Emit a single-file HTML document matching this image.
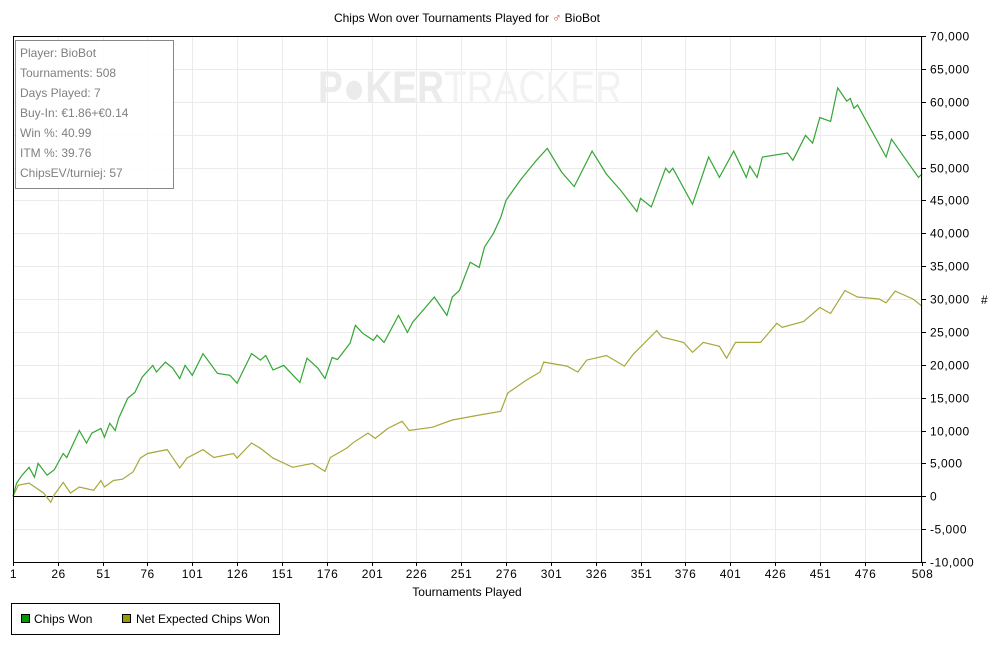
<!DOCTYPE html>
<html><head><meta charset="utf-8"><style>
body{margin:0;background:#fff;width:999px;height:641px;overflow:hidden;font-family:"Liberation Sans",sans-serif}
svg text{font-family:"Liberation Sans",sans-serif}
</style></head><body>
<svg id="chart" width="999" height="641" xmlns="http://www.w3.org/2000/svg">
<text x="467" y="22" font-size="12" text-anchor="middle" fill="#000">Chips Won over Tournaments Played for <tspan fill="#c33">♂</tspan> BioBot</text>
<g id="grid"></g>
<g>
<text x="318" y="103" font-size="45" font-weight="bold" fill="#ebebeb" textLength="304" lengthAdjust="spacingAndGlyphs">P<tspan>●</tspan>KER<tspan font-weight="normal" fill="#f2f2f2">TRACKER</tspan></text>
</g>
<g id="series"></g>
<g id="axes"></g>
<g>
<rect x="15.5" y="40.5" width="158" height="148" fill="#fff" fill-opacity="0.9" stroke="#888"/>
<g font-size="12" fill="#808080">
<text x="20" y="57">Player: BioBot</text>
<text x="20" y="77">Tournaments: 508</text>
<text x="20" y="97">Days Played: 7</text>
<text x="20" y="117">Buy-In: €1.86+€0.14</text>
<text x="20" y="137">Win %: 40.99</text>
<text x="20" y="157">ITM %: 39.76</text>
<text x="20" y="177">ChipsEV/turniej: 57</text>
</g></g>
<text x="467" y="596" font-size="12" text-anchor="middle">Tournaments Played</text>
<text x="981" y="304" font-size="12">#</text>
<g>
<rect x="11.5" y="603.5" width="268" height="31" fill="#fff" stroke="#000"/>
<g><rect x="21.5" y="614.5" width="8" height="8" fill="#009900" stroke="#000"/><text x="34" y="623" font-size="12">Chips Won</text></g>
<g><rect x="122.5" y="614.5" width="8" height="8" fill="#999900" stroke="#000"/><text x="136" y="623" font-size="12">Net Expected Chips Won</text></g>
</g>
</svg>
<script>
const xTicks=[1,26,51,76,101,126,151,176,201,226,251,276,301,326,351,376,401,426,451,476,508];
const yTicks=[70000,65000,60000,55000,50000,45000,40000,35000,30000,25000,20000,15000,10000,5000,0,-5000,-10000];
const wonT=[1,3,6,10,13,15,20,24,29,31,38,42,45,50,52,55,58,60,65,69,73,79,81,86,90,94,97,101,107,115,122,126,134,139,142,146,152,161,165,171,175,179,182,189,192,196,202,204,208,216,221,224,231,236,243,246,250,256,261,264,269,273,276,284,293,299,307,314,324,332,340,349,351,357,365,367,369,380,389,395,403,410,412,416,419,433,436,443,447,451,457,461,466,468,470,472,488,491,506,508];
const wonV=[0,2000,3200,4400,2900,5000,3200,4000,6500,5900,10000,8100,9600,10300,9000,11100,10000,11900,14900,15800,18100,19900,18900,20400,19500,17900,19900,18400,21700,18700,18400,17200,21700,20700,21400,19200,19900,17300,21000,19500,17900,21100,20800,23300,26000,24800,23700,24500,23400,27500,24900,26500,28700,30300,27500,30300,31300,35600,34800,37900,40000,42400,45000,48100,51100,52900,49300,47100,52500,49000,46500,43300,45300,44000,49900,49200,49900,44400,51600,48500,52500,48500,50200,48500,51600,52200,51100,54900,53700,57600,57000,62100,60100,60500,59000,59500,51600,54300,48500,49000];
const evT=[1,4,10,18,22,24,29,33,38,46,50,52,57,62,68,72,76,87,94,98,107,113,124,126,134,139,146,157,168,175,178,187,191,199,203,210,218,222,235,246,260,273,277,287,295,297,310,316,321,332,342,347,360,363,375,380,386,395,399,404,418,427,430,442,451,457,465,472,484,488,493,503,508];
const evV=[0,1700,2000,500,-900,200,2100,500,1400,900,2400,1400,2400,2600,3700,5800,6500,7100,4300,5800,7100,5900,6500,5800,8100,7300,5800,4400,5000,3800,5900,7300,8200,9600,8800,10300,11400,10000,10500,11600,12300,12900,15700,17600,18900,20400,19800,18900,20700,21400,19800,21600,25200,24200,23400,21900,23400,22800,21000,23400,23400,26300,25700,26600,28700,27800,31300,30300,30000,29400,31200,30000,28900];
const NS='http://www.w3.org/2000/svg';
const L=13,R=922,T=36,B=562;
const xS=t=>L+(t-1)*(R-L)/507;
const yS=v=>T+(70000-v)*(B-T)/80000;
function mk(tag,attrs,parent){const e=document.createElementNS(NS,tag);for(const k in attrs)e.setAttribute(k,attrs[k]);parent.appendChild(e);return e;}
const grid=document.getElementById('grid'),axes=document.getElementById('axes'),series=document.getElementById('series');
xTicks.forEach(t=>{const x=Math.round(xS(t))+0.5;
 const g=mk('line',{x1:x,x2:x,y1:T,y2:B,stroke:'#ebebeb'},grid);
 
 const tk=mk('line',{x1:x,x2:x,y1:B,y2:B+4,stroke:'#000'},axes);
 
 const lb=mk('text',{x:x,y:B+16,'font-size':12,'text-anchor':'middle','letter-spacing':'0.5'},axes);lb.textContent=t;
 });
yTicks.forEach(v=>{const y=Math.round(yS(v))+0.5;
 const g=mk('line',{x1:L,x2:R,y1:y,y2:y,stroke:v===0?'#000':'#ebebeb'},grid);
 
 const tk=mk('line',{x1:R,x2:R+4,y1:y,y2:y,stroke:'#000'},axes);
 
 const lb=mk('text',{x:R+8,y:y+4,'font-size':12,'letter-spacing':'0.5'},axes);lb.textContent=v.toLocaleString('en-US');
 });
const fr=mk('rect',{x:L+0.5,y:T+0.5,width:R-L-1,height:B-T,fill:'none',stroke:'#000'},axes);

function line(ts,vs,col,name){const p=mk('polyline',{points:ts.map((t,i)=>xS(t).toFixed(1)+','+yS(vs[i]).toFixed(1)).join(' '),fill:'none',stroke:col,'stroke-width':1.2},series);
 }
line(evT,evV,'#a8a83a','net-expected-chips-line');
line(wonT,wonV,'#33a633','chips-won-line');
</script>
</body></html>
